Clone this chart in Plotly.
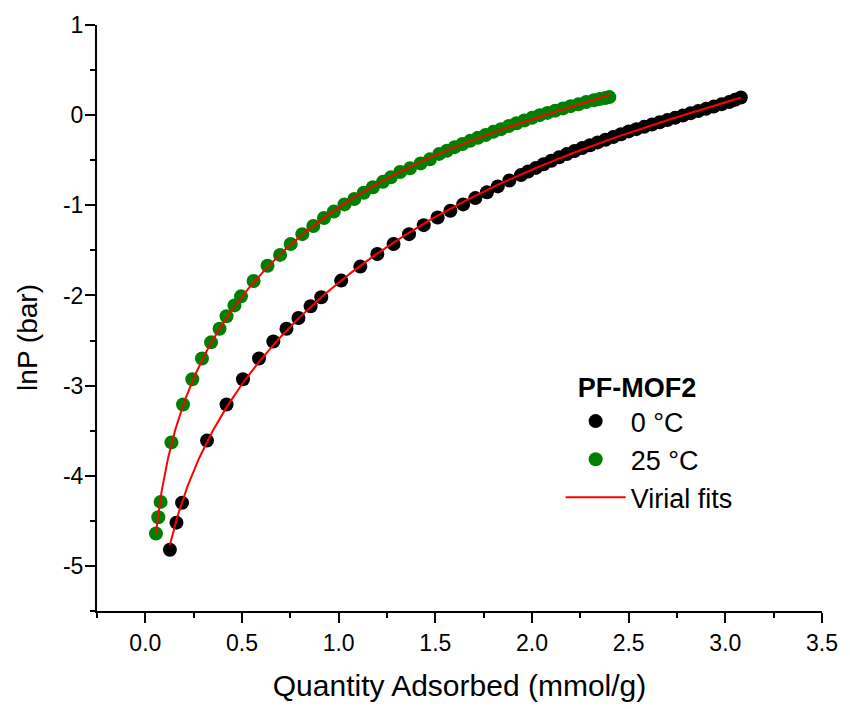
import numpy as np
import plotly.graph_objects as go

# CO2 isotherm data for PF-MOF2, plotted as ln P versus loading
n_0C = [0.127, 0.161, 0.190, 0.319, 0.420, 0.505, 0.588, 0.662, 0.730, 0.792,
        0.855, 0.910, 1.013, 1.112, 1.200, 1.284, 1.364, 1.440, 1.512, 1.578,
        1.644, 1.707, 1.767, 1.823, 1.883, 1.943, 1.98, 2.02, 2.06, 2.10,
        2.14, 2.18, 2.22, 2.26, 2.30, 2.34, 2.38, 2.42, 2.46, 2.50,
        2.54, 2.58, 2.62, 2.66, 2.70, 2.74, 2.78, 2.82, 2.86, 2.90,
        2.94, 2.98, 3.02, 3.05, 3.08]
lnp_0C = [-4.82, -4.52, -4.30, -3.61, -3.21, -2.93, -2.70, -2.51, -2.37, -2.25,
          -2.12, -2.02, -1.835, -1.68, -1.54, -1.43, -1.32, -1.22, -1.135, -1.06,
          -0.99, -0.92, -0.855, -0.79, -0.725, -0.665, -0.625, -0.585, -0.545, -0.505,
          -0.468, -0.432, -0.398, -0.365, -0.333, -0.302, -0.272, -0.242, -0.211, -0.18,
          -0.155, -0.13, -0.105, -0.08, -0.055, -0.03, -0.005, 0.02, 0.045, 0.07,
          0.095, 0.12, 0.145, 0.17, 0.195]

n_25C = [0.055, 0.067, 0.079, 0.135, 0.195, 0.243, 0.293, 0.340, 0.384, 0.420,
         0.461, 0.495, 0.560, 0.632, 0.697, 0.752, 0.812, 0.869, 0.924, 0.975,
         1.030, 1.081, 1.130, 1.177, 1.229, 1.270, 1.318, 1.369, 1.424, 1.472,
         1.52, 1.56, 1.60, 1.64, 1.68, 1.72, 1.76, 1.80, 1.84, 1.88,
         1.92, 1.96, 2.00, 2.04, 2.08, 2.12, 2.16, 2.20, 2.24, 2.28,
         2.32, 2.35, 2.38, 2.40]
lnp_25C = [-4.64, -4.46, -4.29, -3.63, -3.21, -2.93, -2.70, -2.52, -2.37, -2.23,
           -2.11, -2.01, -1.84, -1.67, -1.55, -1.43, -1.32, -1.23, -1.14, -1.07,
           -0.99, -0.93, -0.86, -0.80, -0.74, -0.69, -0.63, -0.59, -0.535, -0.49,
           -0.43, -0.395, -0.355, -0.32, -0.285, -0.25, -0.22, -0.185, -0.155, -0.12,
           -0.09, -0.06, -0.03, 0.0, 0.025, 0.05, 0.075, 0.10, 0.12, 0.145,
           0.165, 0.18, 0.19, 0.20]

x_ticks = [0.0, 0.5, 1.0, 1.5, 2.0, 2.5, 3.0, 3.5]
y_ticks = [1, 0, -1, -2, -3, -4, -5]

FONT = "Liberation Sans, Arial, sans-serif"


def virial_fit(n, lnp, order=3):
    """Least-squares virial fit: ln P = ln N + sum(a_i N^i)."""
    n = np.asarray(n, dtype=float)
    lnp = np.asarray(lnp, dtype=float)
    coeffs = np.polyfit(n, lnp - np.log(n), order)
    grid = np.linspace(n.min(), n.max(), 400)
    return grid, np.log(grid) + np.polyval(coeffs, grid)


fig = go.Figure()

fig.add_trace(go.Scatter(
    x=n_0C, y=lnp_0C, mode="markers", name="0 °C",
    marker=dict(color="black", size=14, line=dict(width=0)),
))
fig.add_trace(go.Scatter(
    x=n_25C, y=lnp_25C, mode="markers", name="25 °C",
    marker=dict(color="#008000", size=14, line=dict(width=0)),
))

for i, (n, lnp) in enumerate([(n_0C, lnp_0C), (n_25C, lnp_25C)]):
    gx, gy = virial_fit(n, lnp)
    fig.add_trace(go.Scatter(
        x=gx, y=gy, mode="lines", name="Virial fits",
        line=dict(color="#ff0000", width=2),
        legendgroup="fit", showlegend=(i == 0),
    ))

axis_common = dict(
    showline=True, linecolor="black", linewidth=2,
    ticks="outside", ticklen=10, tickwidth=2, tickcolor="black",
    showgrid=False, zeroline=False, mirror=False,
    tickfont=dict(family=FONT, size=23, color="black"),
)

fig.update_xaxes(
    range=[-0.25, 3.5],
    tickvals=x_ticks, ticktext=[f"{v:.1f}" for v in x_ticks],
    minor=dict(dtick=0.25, tick0=0, ticks="outside", ticklen=5, tickwidth=2,
               tickcolor="black", showgrid=False),
    title=dict(text="Quantity Adsorbed (mmol/g)",
               font=dict(family=FONT, size=30, color="black"), standoff=20),
    **axis_common,
)
fig.update_yaxes(
    range=[-5.5, 1],
    tickvals=y_ticks, ticktext=[str(v) for v in y_ticks],
    ticklabelstandoff=-3,
    minor=dict(dtick=0.5, tick0=0, ticks="outside", ticklen=5, tickwidth=2,
               tickcolor="black", showgrid=False),
    **axis_common,
)

# Vertical axis label, placed beside the tick labels
fig.add_annotation(
    text="lnP (bar)", textangle=-90,
    xref="paper", yref="paper", x=-0.0958, y=0.467,
    xanchor="center", yanchor="middle", showarrow=False,
    font=dict(family=FONT, size=28, color="black"),
)

fig.update_layout(
    width=850, height=709,
    margin=dict(l=97, r=22, t=24, b=96),
    paper_bgcolor="white", plot_bgcolor="white",
    font=dict(family=FONT, color="black"),
    legend=dict(
        x=0.6395, y=0.425, xanchor="left", yanchor="top",
        bgcolor="rgba(0,0,0,0)",
        font=dict(family=FONT, size=27, color="black"),
        title=dict(text="&nbsp;&nbsp;<b>PF-MOF2</b>",
                   font=dict(family=FONT, size=27, color="black")),
        itemwidth=60, tracegroupgap=0,
    ),
)

fig.write_html("out.html")
